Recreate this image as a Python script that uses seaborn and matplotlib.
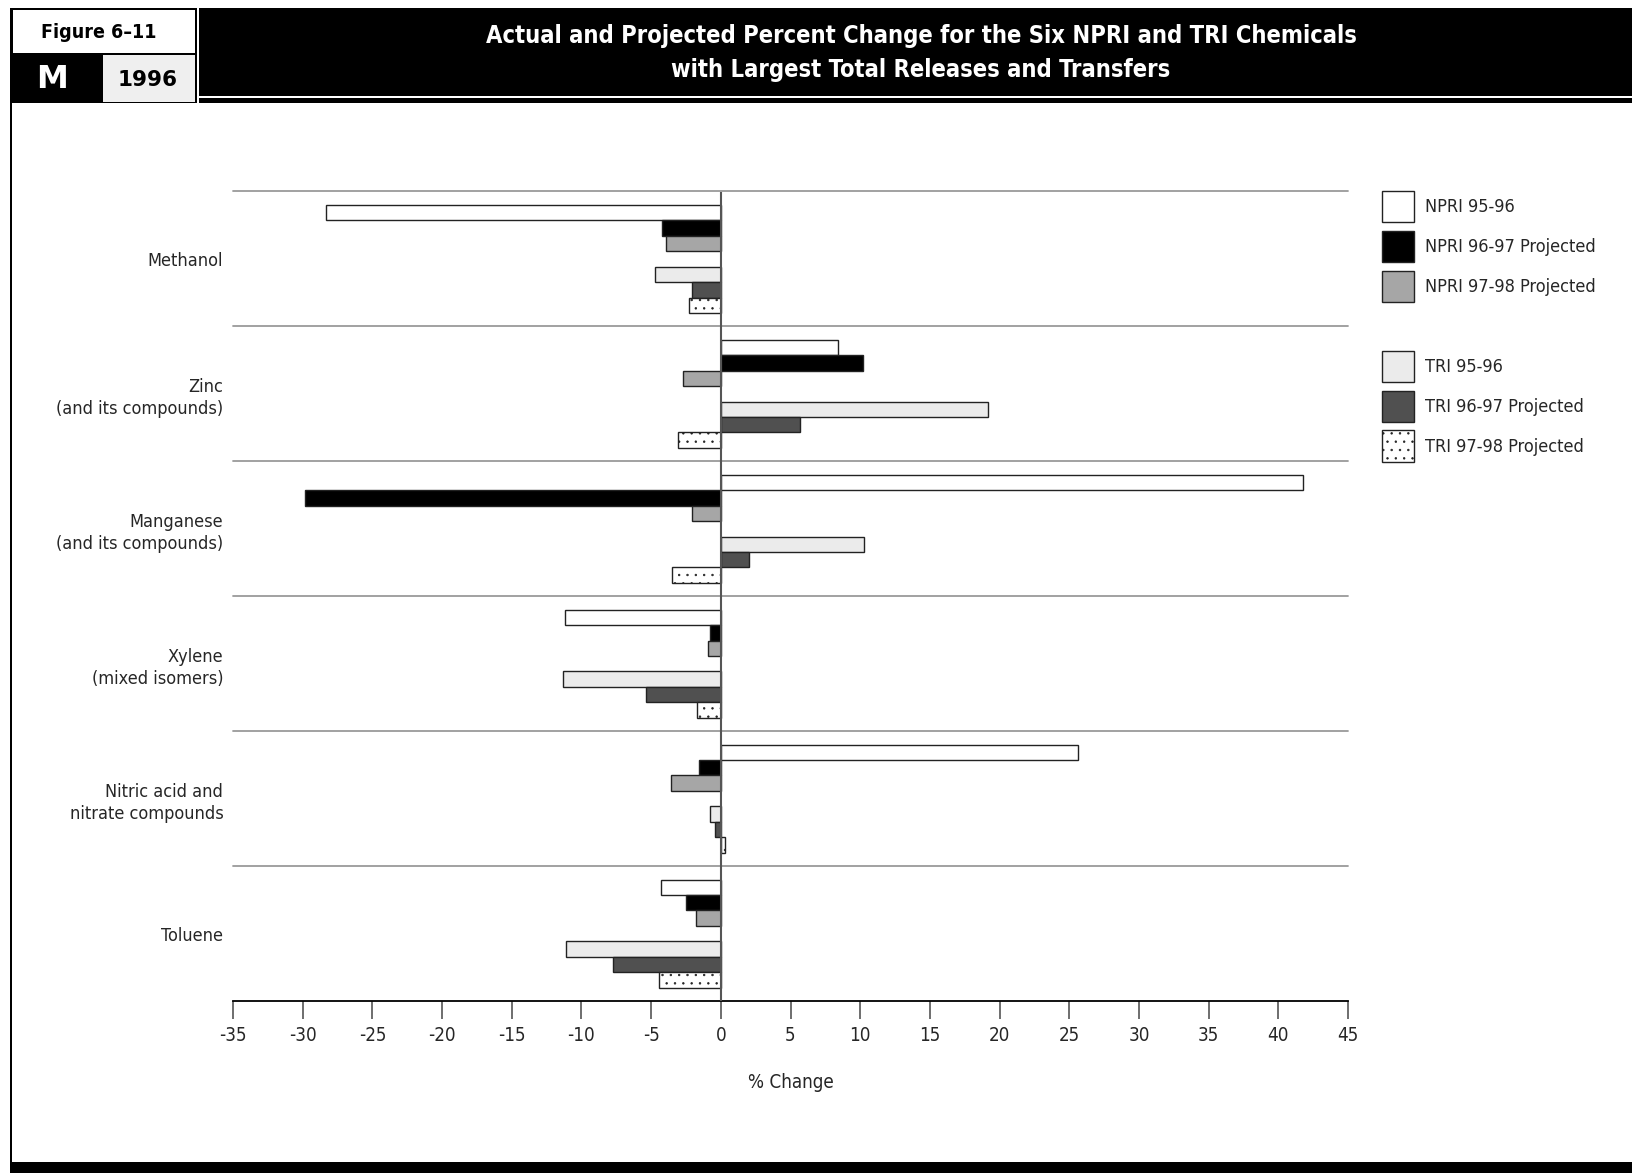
import matplotlib
matplotlib.use("Agg")
import matplotlib.pyplot as plt
from matplotlib.patches import Rectangle, Patch
import seaborn as sns
import pandas as pd

# --- data (% change) ---
chemicals = ["Methanol", "Zinc\n(and its compounds)", "Manganese\n(and its compounds)",
             "Xylene\n(mixed isomers)", "Nitric acid and\nnitrate compounds", "Toluene"]
series = ["NPRI 95-96", "NPRI 96-97 Projected", "NPRI 97-98 Projected",
          "TRI 95-96", "TRI 96-97 Projected", "TRI 97-98 Projected"]
npri_95_96 = [-28.3, 8.4, 41.8, -11.2, 25.6, -4.3]
npri_96_97 = [-4.2, 10.2, -29.8, -0.8, -1.6, -2.5]
npri_97_98 = [-3.9, -2.7, -2.1, -0.9, -3.6, -1.8]
tri_95_96 = [-4.7, 19.2, 10.3, -11.3, -0.8, -11.1]
tri_96_97 = [-2.1, 5.7, 2.0, -5.4, -0.4, -7.7]
tri_97_98 = [-2.3, -3.1, -3.5, -1.7, 0.3, -4.4]
xticks = list(range(-35, 50, 5))

colors = {"NPRI 95-96": "white", "NPRI 96-97 Projected": "black",
          "NPRI 97-98 Projected": "#a6a6a6", " ": "white",
          "TRI 95-96": "#ebebeb", "TRI 96-97 Projected": "#505050",
          "TRI 97-98 Projected": "white"}
dot_hatch = ".."

rows = []
for name, vals in zip(series, [npri_95_96, npri_96_97, npri_97_98,
                               tri_95_96, tri_96_97, tri_97_98]):
    for chem, v in zip(chemicals, vals):
        rows.append({"Chemical": chem, "Series": name, "Change": v})
df = pd.DataFrame(rows)

# empty level keeps a gap between the NPRI and TRI bars
hue_order = series[:3] + [" "] + series[3:]

sns.set_theme(style="white")
plt.rcParams["font.family"] = ["DejaVu Sans"]
plt.rcParams["font.stretch"] = "condensed"
plt.rcParams["axes.unicode_minus"] = False
plt.rcParams["hatch.linewidth"] = 0.5

W, H = 1632, 1173
fig = plt.figure(figsize=(W / 100, H / 100), dpi=100)
fig.patch.set_facecolor("white")
ax = fig.add_axes([233 / W, 1 - 1001 / H, (1348 - 233) / W, (1001 - 191.5) / H])

sns.barplot(data=df, x="Change", y="Chemical", hue="Series", order=chemicals,
            hue_order=hue_order, palette=colors, orient="h", width=0.8, gap=0,
            edgecolor="#222222", linewidth=1.0, legend=False, ax=ax)

# last container is the dotted TRI 97-98 series
for bar in ax.containers[-1]:
    bar.set_hatch(dot_hatch)

ax.set_xlim(-35, 45)
ax.set_ylim(5.5, -0.5)
for y in [-0.5, 0.5, 1.5, 2.5, 3.5, 4.5]:
    ax.axhline(y, color="#9a9a9a", lw=1.3, clip_on=False, zorder=0)
ax.axvline(0, color="#555555", lw=1.5, zorder=3)

for s in ["left", "right", "top"]:
    ax.spines[s].set_visible(False)
ax.spines["bottom"].set_color("black")
ax.spines["bottom"].set_linewidth(1.3)

ax.set_xticks(xticks)
ax.set_xticklabels([str(t) for t in xticks], fontsize=13.5)
ax.tick_params(axis="x", direction="out", length=13, width=1.2, color="#555555",
               pad=5, bottom=True)
ax.tick_params(axis="y", length=0, pad=7)
ax.set_yticks(range(len(chemicals)))
ax.set_yticklabels(chemicals, fontsize=13, linespacing=1.3)
ax.set_xlabel("% Change", fontsize=13.5, labelpad=20)
ax.set_ylabel("")

# legend with a blank row between the two groups
handles = []
labels = []
for name in hue_order:
    if name == " ":
        handles.append(Patch(facecolor="none", edgecolor="none"))
        labels.append(" ")
    else:
        handles.append(Patch(facecolor=colors[name], edgecolor="#222222", lw=1.0,
                             hatch=dot_hatch if name == "TRI 97-98 Projected" else None))
        labels.append(name)
fig.legend(handles, labels, loc="upper left", bbox_to_anchor=(1382 / W, 1 - 191 / H),
           frameon=False, borderpad=0, borderaxespad=0, fontsize=13,
           handlelength=1.77, handleheight=2.3, labelspacing=0.47, handletextpad=0.62)


# --- header / frame ---
def box(x0, y0, x1, y1, color):
    fig.add_artist(Rectangle((x0 / W, 1 - y1 / H), (x1 - x0) / W, (y1 - y0) / H,
                             transform=fig.transFigure, facecolor=color, lw=0))


box(10, 8, 197, 103, "black")
box(12.5, 10, 194.5, 52.5, "white")
box(103, 55, 194.5, 102, "#efefef")
box(199, 8, W, 95.5, "black")
box(199, 97.5, W, 102.5, "black")
box(10, 102, 12, 1163, "black")
box(10, 1162, W, H, "black")

fig.text(99 / W, 1 - 32 / H, "Figure 6–11", ha="center", va="center",
         fontsize=14, fontweight="bold", color="black")
fig.text(52 / W, 1 - 80 / H, "M", ha="center", va="center", fontsize=23,
         fontweight="bold", color="white", fontstretch="expanded")
fig.text(148 / W, 1 - 80 / H, "1996", ha="center", va="center", fontsize=15.5,
         fontweight="bold", color="black", fontstretch="normal")
fig.text(921 / W, 1 - 36 / H,
         "Actual and Projected Percent Change for the Six NPRI and TRI Chemicals",
         ha="center", va="center", fontsize=17, fontweight="bold", color="white")
fig.text(921 / W, 1 - 70.5 / H, "with Largest Total Releases and Transfers",
         ha="center", va="center", fontsize=17, fontweight="bold", color="white")

fig.savefig("out.png", dpi=100, facecolor="white")
